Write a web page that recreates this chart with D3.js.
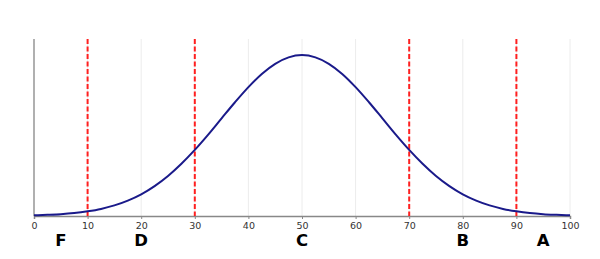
<!DOCTYPE html>
<html><head><meta charset="utf-8">
<script src="https://cdn.jsdelivr.net/npm/d3@7"></script>
<style>html,body{margin:0;padding:0;background:#fff;}svg{display:block;font-family:"DejaVu Sans",sans-serif;}</style>
</head><body><svg id="c" width="600" height="259"></svg>
<script>
// curve samples (score, relative density)
const scores = [0,2.5,5,7.5,10,12.5,15,17.5,20,22.5,25,27.5,30,32.5,35,37.5,40,42.5,45,47.5,50,52.5,55,57.5,60,62.5,65,67.5,70,72.5,75,77.5,80,82.5,85,87.5,90,92.5,95,97.5,100];
const density = [0.004,0.007,0.011,0.018,0.029,0.044,0.066,0.096,0.135,0.186,0.249,0.325,0.411,0.506,0.607,0.707,0.801,0.883,0.946,0.986,1.000,0.986,0.946,0.883,0.801,0.707,0.607,0.506,0.411,0.325,0.249,0.186,0.135,0.096,0.066,0.044,0.029,0.018,0.011,0.007,0.004];
const cutoffs = [10,30,70,90];
const grades = ["F","D","C","B","A"];
const gradePos = [5,20,50,80,95];
const tickValues = [0,10,20,30,40,50,60,70,80,90,100];

const svg = d3.select("#c");
const x = d3.scaleLinear().domain([0,100]).range([34,570]);
const y = d3.scaleLinear().domain([0,1.1]).range([216,39]);

// grid
svg.append("g").selectAll("line").data(tickValues).join("line")
  .attr("x1",d=>x(d)).attr("x2",d=>x(d)).attr("y1",y(1.1)).attr("y2",y(0))
  .attr("stroke","#ececec").attr("stroke-width",1);

// left axis line
svg.append("line").attr("x1",x(0)).attr("x2",x(0)).attr("y1",y(1.1)).attr("y2",y(0))
  .attr("stroke","#999").attr("stroke-width",1.5);

// x axis
const ax = svg.append("g").attr("transform",`translate(0,${y(0)})`)
  .call(d3.axisBottom(x).tickValues(tickValues).tickSize(3).tickPadding(3).tickFormat(d3.format("d")));
ax.select(".domain").attr("stroke","#888").attr("stroke-width",1.5);
ax.selectAll(".tick line").attr("stroke","#888");
ax.selectAll("text").attr("fill","#333").style("font-size","9.5px").style("font-family","DejaVu Sans");

// cutoffs
svg.append("g").selectAll("line").data(cutoffs).join("line")
  .attr("x1",d=>x(d)).attr("x2",d=>x(d)).attr("y1",y(1.1)).attr("y2",y(0))
  .attr("stroke","#ff2020").attr("stroke-width",2).attr("stroke-dasharray","5,2.5");

// curve
const pts = scores.map((s,i)=>[s,density[i]]);
svg.append("path").datum(pts)
  .attr("d",d3.line().x(d=>x(d[0])).y(d=>y(d[1])).curve(d3.curveMonotoneX))
  .attr("fill","none").attr("stroke","#1a1a8a").attr("stroke-width",2);

// grades
svg.append("g").selectAll("text").data(grades).join("text")
  .attr("x",(d,i)=>x(gradePos[i])).attr("y",246)
  .attr("text-anchor","middle").attr("font-weight","bold").attr("font-size","16.5px")
  .attr("fill","#000").text(d=>d);
</script></body></html>
